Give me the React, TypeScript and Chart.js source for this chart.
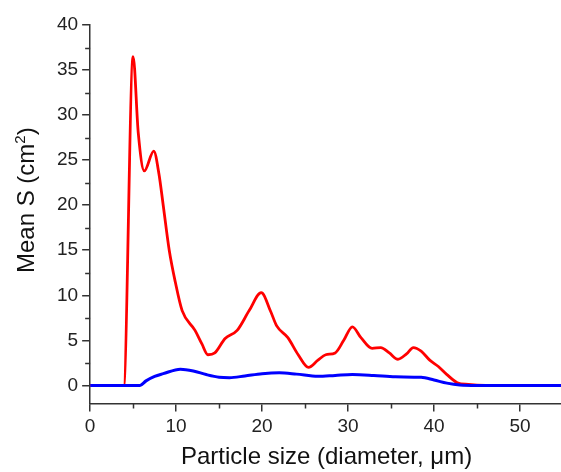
import React, { useEffect, useRef } from "react";
import { Chart, registerables } from "chart.js";

Chart.register(...registerables);

const redX = [0, 3.9, 5.0, 5.6, 6.3, 7.4, 8.0, 8.5, 9.2, 9.9, 10.7, 12.2, 13.0, 13.7, 14.5, 15.7, 17.1, 18.5, 19.9, 21.0, 21.7, 23.0, 24.2, 25.4, 26.5, 27.4, 28.5, 29.5, 30.5, 31.5, 32.8, 33.8, 34.8, 35.8, 36.8, 37.6, 38.5, 39.5, 40.5, 41.5, 42.7, 44, 46, 50, 55];
const redY = [0, 0, 36.5, 28, 23.8, 26, 23.5, 20, 15, 11.5, 8.3, 6.1, 4.6, 3.4, 3.6, 5.2, 6.1, 8.3, 10.3, 8.2, 6.6, 5.3, 3.4, 2.0, 2.8, 3.4, 3.6, 5.0, 6.5, 5.3, 4.1, 4.2, 3.6, 2.9, 3.5, 4.2, 3.8, 2.8, 2.1, 1.2, 0.3, 0.1, 0, 0, 0];

const blueX = [0, 5.8, 6.5, 7.5, 8.5, 10.5, 12, 13.5, 15, 16.2, 18, 20, 22, 24, 26.5, 28.5, 30.5, 33, 35.5, 38.5, 40, 41.5, 43, 45, 50, 55];
const blueY = [0, 0, 0.5, 1.0, 1.3, 1.8, 1.6, 1.2, 0.9, 0.85, 1.05, 1.3, 1.4, 1.25, 1.0, 1.1, 1.2, 1.1, 0.95, 0.9, 0.6, 0.25, 0.05, 0, 0, 0];

const xTickValues = [0, 5, 10, 15, 20, 25, 30, 35, 40, 45, 50, 55];
const xLabelValues = [0, 10, 20, 30, 40, 50];
const yTickValues = [0, 2.5, 5, 7.5, 10, 12.5, 15, 17.5, 20, 22.5, 25, 27.5, 30, 32.5, 35, 37.5, 40];
const yLabelValues = [0, 5, 10, 15, 20, 25, 30, 35, 40];

const xTitle = "Particle size (diameter, \u03bcm)";
const yTitleMain = "Mean S (cm";
const yTitleSup = "2";
const yTitleEnd = ")";

const AXIS_COLOR = "#333333";
const FONT = "'Liberation Sans', Arial, sans-serif";

const minorTicks = {
  id: "minorTicks",
  afterDraw(chart: any) {
    const ctx = chart.ctx;
    const xs = chart.scales.x;
    const ys = chart.scales.y;
    ctx.save();
    ctx.strokeStyle = AXIS_COLOR;
    ctx.lineWidth = 1.5;
    ctx.beginPath();
    xs.ticks.forEach((t: any) => {
      if (!xLabelValues.includes(t.value)) {
        const px = Math.round(xs.getPixelForValue(t.value)) + 0.5;
        ctx.moveTo(px, xs.top);
        ctx.lineTo(px, xs.top + 5);
      }
    });
    ys.ticks.forEach((t: any) => {
      if (!yLabelValues.includes(t.value)) {
        const py = Math.round(ys.getPixelForValue(t.value)) + 0.5;
        ctx.moveTo(ys.right, py);
        ctx.lineTo(ys.right - 5, py);
      }
    });
    ctx.stroke();
    ctx.restore();
  },
};

// y-axis title with a real superscript
const yTitlePlugin = {
  id: "yTitlePlugin",
  afterDraw(chart: any) {
    const ctx = chart.ctx;
    const mainFont = `24px ${FONT}`;
    const supFont = `15px ${FONT}`;
    ctx.save();
    ctx.font = mainFont;
    const w1 = ctx.measureText(yTitleMain).width;
    const w3 = ctx.measureText(yTitleEnd).width;
    ctx.font = supFont;
    const w2 = ctx.measureText(yTitleSup).width;
    const total = w1 + w2 + w3;
    const cy = (chart.chartArea.top + chart.chartArea.bottom) / 2 - 14;
    ctx.translate(34, cy);
    ctx.rotate(-Math.PI / 2);
    ctx.fillStyle = "#111";
    ctx.textBaseline = "alphabetic";
    ctx.textAlign = "left";
    let x = -total / 2;
    ctx.font = mainFont;
    ctx.fillText(yTitleMain, x, 0);
    x += w1;
    ctx.font = supFont;
    ctx.fillText(yTitleSup, x, -9);
    x += w2;
    ctx.font = mainFont;
    ctx.fillText(yTitleEnd, x, 0);
    ctx.restore();
  },
};

export default function App() {
  const ref = useRef<HTMLCanvasElement | null>(null);
  useEffect(() => {
    if (!ref.current) return;
    const chart = new Chart(ref.current, {
      type: "scatter",
      data: {
        datasets: [
          {
            label: "red",
            data: redX.map((x, i) => ({ x, y: redY[i] })),
            borderColor: "#ff0000",
            borderWidth: 2.8,
            showLine: true,
            pointRadius: 0,
            cubicInterpolationMode: "monotone",
            order: 2,
          },
          {
            label: "blue",
            data: blueX.map((x, i) => ({ x, y: blueY[i] })),
            borderColor: "#0000ff",
            borderWidth: 3,
            showLine: true,
            pointRadius: 0,
            cubicInterpolationMode: "monotone",
            order: 1,
          },
        ],
      },
      options: {
        animation: false,
        responsive: false,
        layout: { padding: { left: 53, top: 25, right: 0, bottom: 0 } },
        plugins: { legend: { display: false }, tooltip: { enabled: false } },
        scales: {
          x: {
            type: "linear",
            min: 0,
            max: 55,
            afterBuildTicks: (s: any) => {
              s.ticks = xTickValues.map((v) => ({ value: v }));
            },
            border: { color: AXIS_COLOR, width: 1.5 },
            grid: {
              drawOnChartArea: false,
              drawTicks: true,
              tickLength: 8,
              lineWidth: 1.5,
              color: (c: any) => (c.tick && xLabelValues.includes(c.tick.value) ? AXIS_COLOR : "rgba(0,0,0,0)"),
            },
            ticks: {
              padding: 4,
              maxRotation: 0,
              autoSkip: false,
              color: "#222",
              font: { family: FONT, size: 19 },
              callback: (v: any) => (xLabelValues.includes(Number(v)) ? String(v) : ""),
            },
            title: {
              display: true,
              text: xTitle,
              color: "#111",
              font: { family: FONT, size: 24 },
              padding: { top: 1, bottom: 0 },
            },
          },
          y: {
            type: "linear",
            min: -2,
            max: 40,
            afterBuildTicks: (s: any) => {
              s.ticks = yTickValues.map((v) => ({ value: v }));
            },
            border: { color: AXIS_COLOR, width: 1.5 },
            grid: {
              drawOnChartArea: false,
              drawTicks: true,
              tickLength: 8,
              lineWidth: 1.5,
              color: (c: any) => (c.tick && yLabelValues.includes(c.tick.value) ? AXIS_COLOR : "rgba(0,0,0,0)"),
            },
            ticks: {
              padding: 4,
              autoSkip: false,
              color: "#222",
              font: { family: FONT, size: 19 },
              callback: (v: any) => (yLabelValues.includes(Number(v)) ? String(v) : ""),
            },
            title: { display: false },
          },
        },
      },
      plugins: [minorTicks, yTitlePlugin],
    } as any);
    return () => chart.destroy();
  }, []);
  return (
    <div style={{ position: "fixed", left: 0, top: 0, width: 561, height: 472, overflow: "hidden", background: "#fff" }}>
      <canvas ref={ref} width={567} height={472} style={{ width: 567, height: 472 }} />
    </div>
  );
}
